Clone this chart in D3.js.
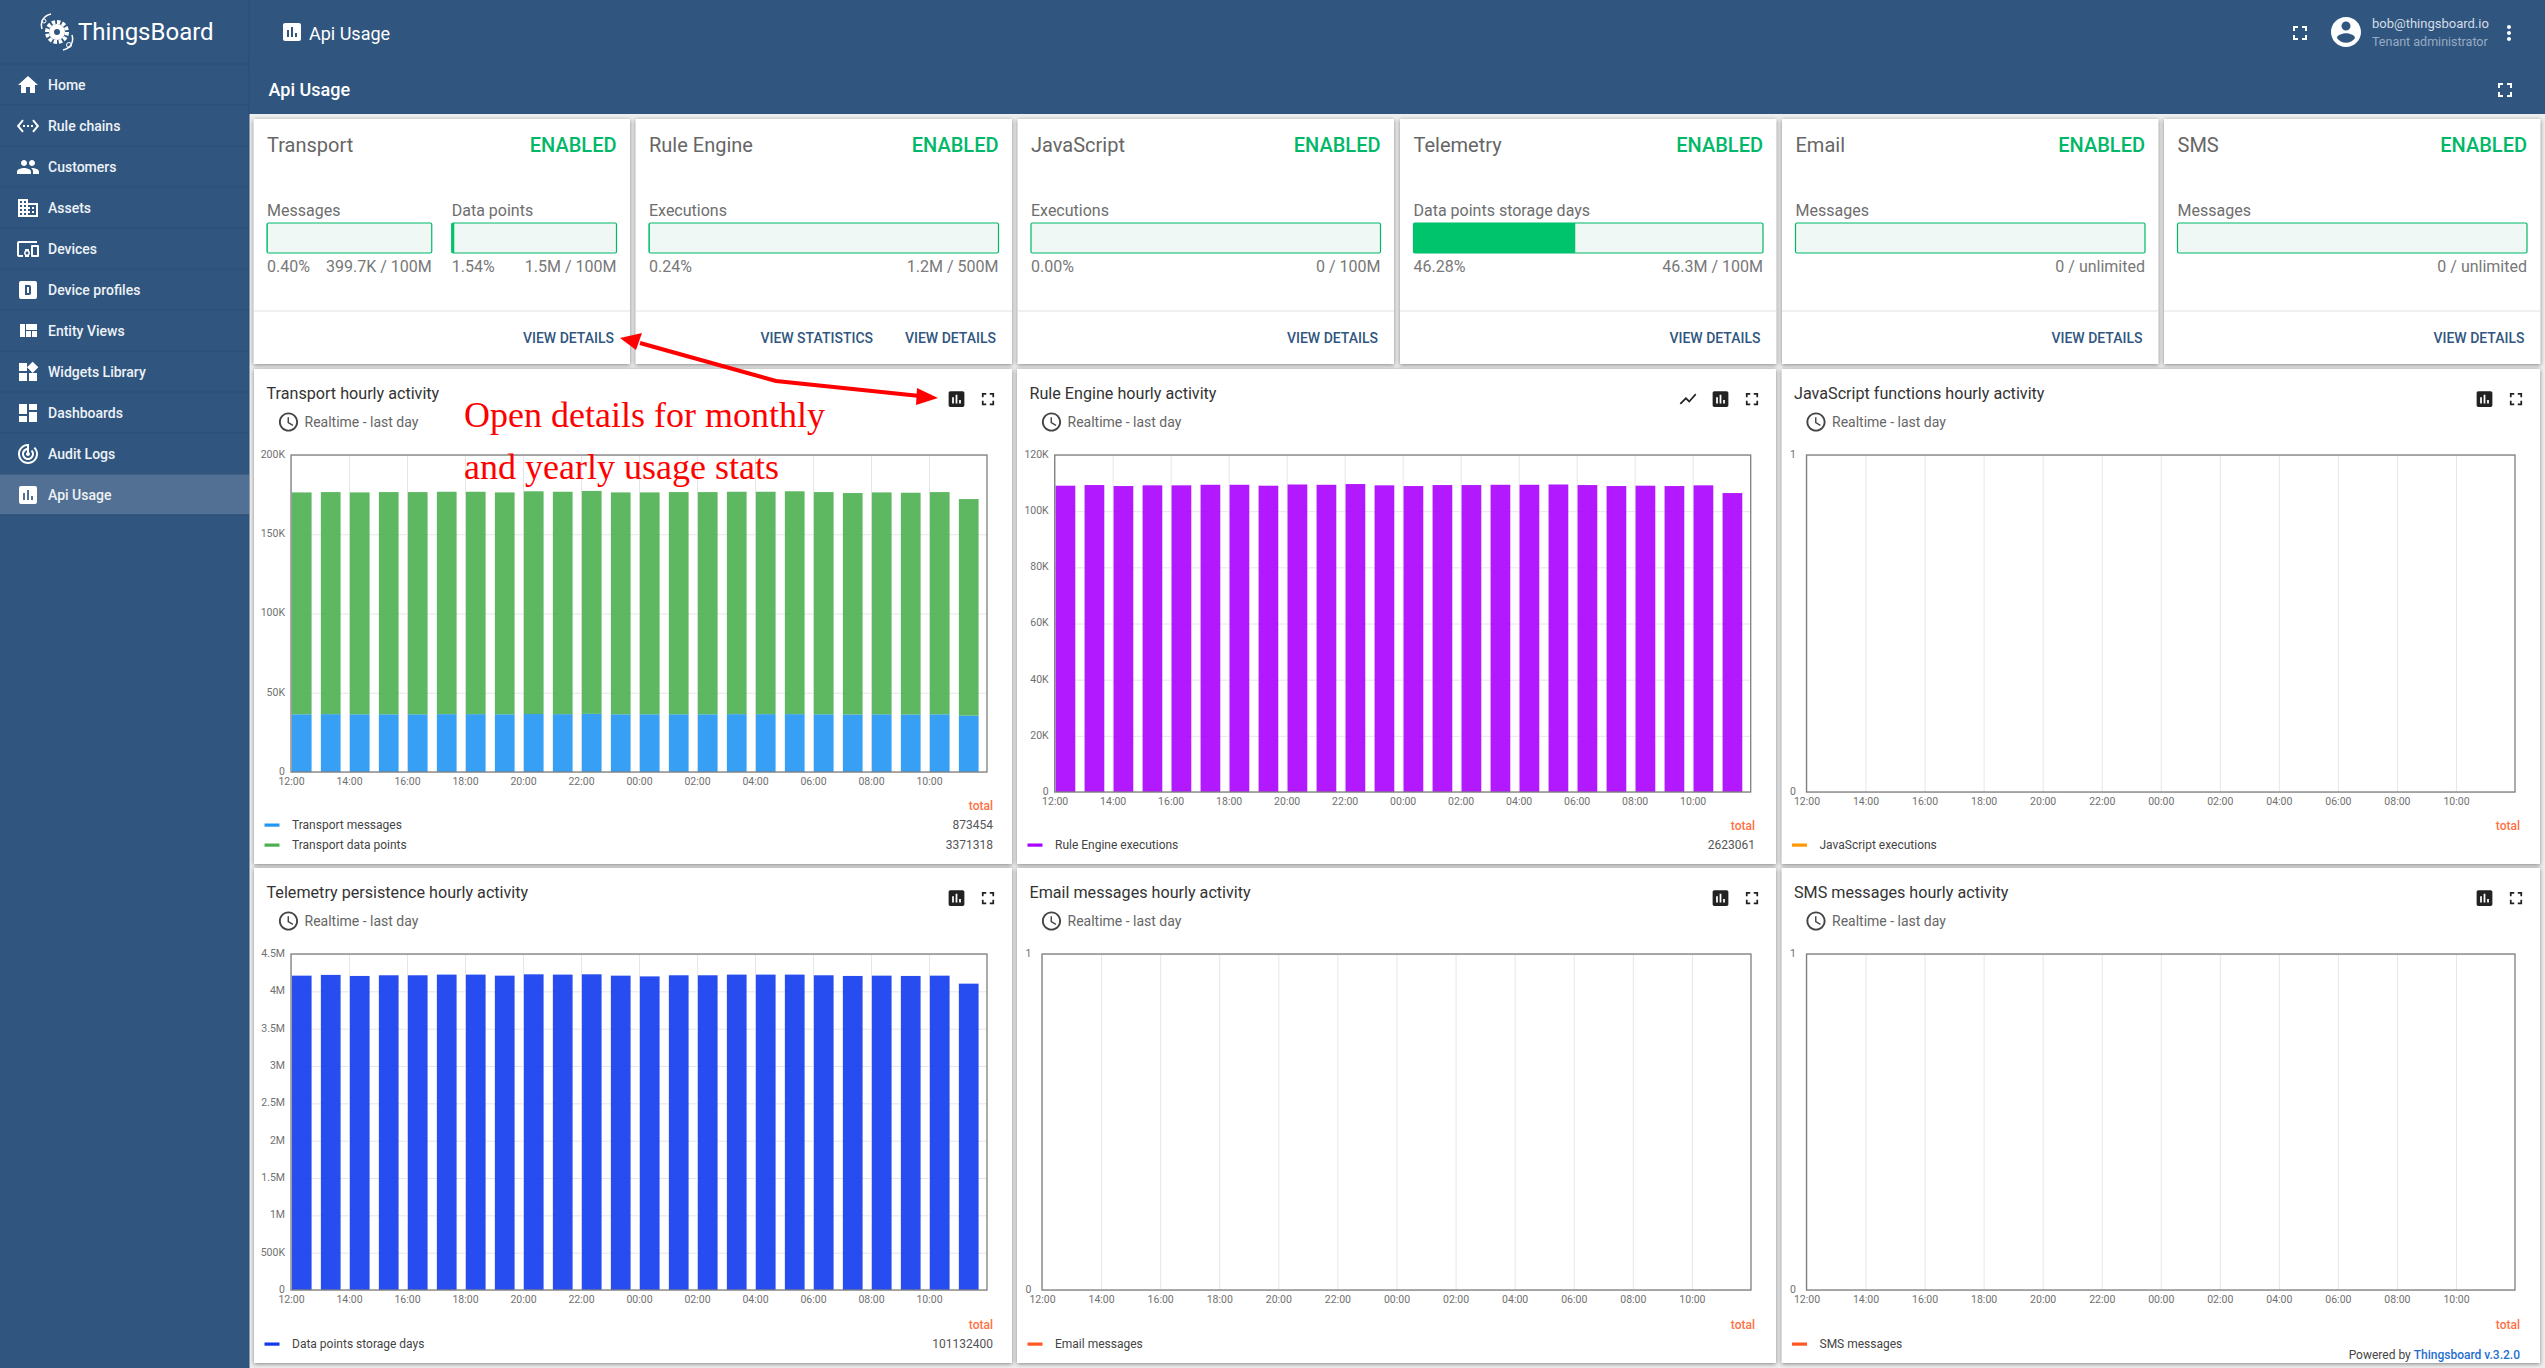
<!DOCTYPE html>
<html>
<head>
<meta charset="utf-8">
<title>Api Usage</title>
<script src="https://cdn.jsdelivr.net/npm/d3@7"></script>
<style>
  html, body { margin: 0; padding: 0; background: #eeeeee; }
  svg { display: block; font-family: Roboto, sans-serif; }
  .grid line { stroke: #e6e6e6; stroke-width: 1; }
  .grid path { display: none; }
  .grid text { fill: #707070; font-size: 10.5px; font-family: Roboto, sans-serif; }
  .card { fill: #fff; filter: drop-shadow(0 1px 2px rgba(0,0,0,.45)); }
</style>
</head>
<body>
<div id="page"></div>
<script>
var svgWidth = 2545;
var svgHeight = 1368;

var headerColor = "#305680";

// Chart data
var hourLabels = ["12:00", "14:00", "16:00", "18:00", "20:00", "22:00", "00:00", "02:00", "04:00", "06:00", "08:00", "10:00"];
var hourTicks = [0, 2, 4, 6, 8, 10, 12, 14, 16, 18, 20, 22];
var barHours = [0, 1, 2, 3, 4, 5, 6, 7, 8, 9, 10, 11, 12, 13, 14, 15, 16, 17, 18, 19, 20, 21, 22, 23];

var transportMessages = [36400, 36500, 36400, 36400, 36400, 36500, 36500, 36400, 36600, 36500, 36700, 36400,
  36400, 36400, 36400, 36500, 36500, 36500, 36400, 36300, 36400, 36300, 36400, 35600];
var transportDataPoints = [140000, 140100, 140000, 140200, 140200, 140300, 140300, 140000, 140500, 140300, 140600, 140000,
  140000, 140200, 140200, 140300, 140300, 140600, 140200, 139700, 140000, 139900, 140200, 136600];
var ruleEngineExecutions = [109070, 109300, 108950, 109200, 109200, 109400, 109400, 109070, 109500, 109400, 109660, 109200,
  108950, 109300, 109300, 109400, 109400, 109500, 109300, 108950, 109070, 108950, 109200, 106450];
var storageDays = [4210000, 4220000, 4206000, 4215000, 4215000, 4224000, 4224000, 4210000, 4228000, 4224000, 4228000, 4210000,
  4200000, 4215000, 4215000, 4224000, 4224000, 4224000, 4215000, 4206000, 4210000, 4206000, 4210000, 4103000];

var transportTicks = [0, 50000, 100000, 150000, 200000];
var ruleEngineTicks = [0, 20000, 40000, 60000, 80000, 100000, 120000];
var storageTicks = [0, 500000, 1000000, 1500000, 2000000, 2500000, 3000000, 3500000, 4000000, 4500000];
var emptyTicks = [0, 1];

// Usage cards
var cardNames = ["Transport", "Rule Engine", "JavaScript", "Telemetry", "Email", "SMS"];
var cardMeters = [
  [{ label: "Messages", pct: 0.40, text: "0.40%", usage: "399.7K / 100M" }, { label: "Data points", pct: 1.54, text: "1.54%", usage: "1.5M / 100M" }],
  [{ label: "Executions", pct: 0.24, text: "0.24%", usage: "1.2M / 500M" }],
  [{ label: "Executions", pct: 0, text: "0.00%", usage: "0 / 100M" }],
  [{ label: "Data points storage days", pct: 46.28, text: "46.28%", usage: "46.3M / 100M" }],
  [{ label: "Messages", pct: 0, text: "", usage: "0 / unlimited" }],
  [{ label: "Messages", pct: 0, text: "", usage: "0 / unlimited" }]
];

var menuLabels = ["Home", "Rule chains", "Customers", "Assets", "Devices", "Device profiles", "Entity Views", "Widgets Library", "Dashboards", "Audit Logs", "Api Usage"];

// Material icon paths, 24x24
var icons = {
  home: "M10 20v-6h4v6h5v-8h3L12 3 2 12h3v8z",
  ruleChains: "M7.77 6.76L6.23 5.48.82 12l5.41 6.52 1.54-1.28L3.42 12l4.35-5.24zM7 13h2v-2H7v2zm10-2h-2v2h2v-2zm-6 2h2v-2h-2v2zm6.77-7.52l-1.54 1.28L20.58 12l-4.35 5.24 1.54 1.28L23.18 12l-5.41-6.52z",
  people: "M16 11c1.66 0 2.99-1.34 2.99-3S17.66 5 16 5c-1.66 0-3 1.34-3 3s1.34 3 3 3zm-8 0c1.66 0 2.99-1.34 2.99-3S9.66 5 8 5C6.34 5 5 6.34 5 8s1.34 3 3 3zm0 2c-2.33 0-7 1.17-7 3.5V19h14v-2.5c0-2.33-4.67-3.5-7-3.5zm8 0c-.29 0-.62.02-.97.05 1.16.84 1.97 1.97 1.97 3.45V19h6v-2.5c0-2.33-4.67-3.5-7-3.5z",
  domain: "M12 7V3H2v18h20V7H12zM6 19H4v-2h2v2zm0-4H4v-2h2v2zm0-4H4V9h2v2zm0-4H4V5h2v2zm4 12H8v-2h2v2zm0-4H8v-2h2v2zm0-4H8V9h2v2zm0-4H8V5h2v2zm10 12h-8v-2h2v-2h-2v-2h2v-2h-2V9h8v10zm-2-8h-2v2h2v-2zm0 4h-2v2h2v-2z",
  devices: "M3 6h18V4H3c-1.1 0-2 .9-2 2v12c0 1.1.9 2 2 2h4v-2H3V6zm10 6H9v1.78c-.61.55-1 1.33-1 2.22s.39 1.67 1 2.22V20h4v-1.78c.61-.55 1-1.34 1-2.22s-.39-1.67-1-2.22V12zm-2 5.5c-.83 0-1.5-.67-1.5-1.5s.67-1.5 1.5-1.5 1.5.67 1.5 1.5-.67 1.5-1.5 1.5zM22 8h-6c-.5 0-1 .5-1 1v10c0 .5.5 1 1 1h6c.5 0 1-.5 1-1V9c0-.5-.5-1-1-1zm-1 10h-4v-8h4v8z",
  profile: "M5 3h14a2 2 0 0 1 2 2v14a2 2 0 0 1-2 2H5a2 2 0 0 1-2-2V5a2 2 0 0 1 2-2zm4 4v10h4a2 2 0 0 0 2-2V9a2 2 0 0 0-2-2H9zm2 2h2v6h-2V9z",
  quilt: "M10 18h5v-6h-5v6zm-6 0h5V5H4v13zm12 0h5v-6h-5v6zM10 5v6h11V5H10z",
  widgets: "M13 13v8h8v-8h-8zM3 21h8v-8H3v8zM3 3v8h8V3H3zm13.66-1.31L11 7.34 16.66 13l5.66-5.66-5.66-5.65z",
  dashboard: "M3 13h8V3H3v10zm0 8h8v-6H3v6zm10 0h8V11h-8v10zm0-18v6h8V3h-8z",
  audit: "M19.07 4.93l-1.41 1.41C19.1 7.79 20 9.79 20 12c0 4.42-3.58 8-8 8s-8-3.58-8-8c0-4.08 3.05-7.44 7-7.93v2.02C8.16 6.57 6 9.03 6 12c0 3.31 2.69 6 6 6s6-2.69 6-6c0-1.66-.67-3.16-1.76-4.24l-1.41 1.41C15.55 9.9 16 10.9 16 12c0 2.21-1.79 4-4 4s-4-1.79-4-4c0-1.86 1.28-3.41 3-3.86v2.14c-.6.35-1 .98-1 1.72 0 1.1.9 2 2 2s2-.9 2-2c0-.74-.4-1.38-1-1.72V2h-1C6.48 2 2 6.48 2 12s4.48 10 10 10 10-4.48 10-10c0-2.76-1.12-5.26-2.93-7.07z",
  chart: "M19 3H5c-1.1 0-2 .9-2 2v14c0 1.1.9 2 2 2h14c1.1 0 2-.9 2-2V5c0-1.1-.9-2-2-2zM9 17H7v-7h2v7zm4 0h-2V7h2v10zm4 0h-2v-4h2v4z",
  fullscreen: "M7 14H5v5h5v-2H7v-3zm-2-4h2V7h3V5H5v5zm12 7h-3v2h5v-5h-2v3zM14 5v2h3v3h2V5h-5z",
  account: "M12 2C6.48 2 2 6.48 2 12s4.48 10 10 10 10-4.48 10-10S17.52 2 12 2zm0 3c1.66 0 3 1.34 3 3s-1.34 3-3 3-3-1.34-3-3 1.34-3 3-3zm0 14.2c-2.5 0-4.71-1.28-6-3.22.03-1.99 4-3.08 6-3.08 1.99 0 5.97 1.09 6 3.08-1.29 1.94-3.5 3.22-6 3.22z",
  more: "M12 8c1.1 0 2-.9 2-2s-.9-2-2-2-2 .9-2 2 .9 2 2 2zm0 2c-1.1 0-2 .9-2 2s.9 2 2 2 2-.9 2-2-.9-2-2-2zm0 6c-1.1 0-2 .9-2 2s.9 2 2 2 2-.9 2-2-.9-2-2-2z",
  showChart: "M3.5 18.49l6-6.01 4 4L22 6.92l-1.41-1.41-7.09 7.97-4-4L2 16.99z",
  clock: "M11.99 2C6.47 2 2 6.48 2 12s4.47 10 9.99 10C17.52 22 22 17.52 22 12S17.52 2 11.99 2zM12 20c-4.42 0-8-3.58-8-8s3.58-8 8-8 8 3.58 8 8-3.58 8-8 8zm.5-13H11v6l5.25 3.15.75-1.23-4.5-2.67z"
};
var menuIcons = ["home", "ruleChains", "people", "domain", "devices", "profile", "quilt", "widgets", "dashboard", "audit", "chart"];

var svg = d3.select("#page")
  .append("svg")
  .attr("width", svgWidth)
  .attr("height", svgHeight);

svg.append("rect")
  .attr("width", svgWidth)
  .attr("height", svgHeight)
  .attr("fill", "#eeeeee");

function drawIcon(parent, path, cx, cy, size, color) {
  return parent.append("path")
    .attr("d", path)
    .attr("fill", color)
    .attr("fill-rule", "evenodd")
    .attr("transform", `translate(${cx - size / 2}, ${cy - size / 2}) scale(${size / 24})`);
}

// text helper, y is the vertical centre of the line
function drawText(parent, str, x, y, size, color, weight, anchor) {
  return parent.append("text")
    .attr("x", x)
    .attr("y", y)
    .attr("dy", "0.35em")
    .attr("font-size", size)
    .attr("fill", color)
    .attr("font-weight", weight || 400)
    .attr("text-anchor", anchor || "start")
    .text(str);
}

function formatTick(v) {
  if (v >= 1000000) return (v / 1000000) + "M";
  if (v >= 1000) return (v / 1000) + "K";
  return v;
}

// Header and side menu
var header = svg.append("g");
header.append("rect").attr("width", svgWidth).attr("height", 114).attr("fill", headerColor);
header.append("rect").attr("width", 249).attr("height", svgHeight).attr("fill", headerColor);
header.append("line")
  .attr("x1", 249).attr("x2", 249).attr("y1", 0).attr("y2", svgHeight)
  .attr("stroke", "#2a4c72");

// logo: gear with a couple of circuit traces
var logo = header.append("g").attr("transform", "translate(57, 32)");
logo.append("circle").attr("r", 8).attr("fill", "#fff");
logo.append("circle").attr("r", 10).attr("fill", "none").attr("stroke", "#fff").attr("stroke-width", 4).attr("stroke-dasharray", "3.4 1.8");
logo.append("circle").attr("r", 3).attr("fill", headerColor);
logo.append("path").attr("d", "M-15 -3 C-17 -10 -14 -16 -6 -18 M15 3 C17 10 14 16 6 18").attr("fill", "none").attr("stroke", "#fff").attr("stroke-width", 1.5);
logo.append("circle").attr("cx", -13).attr("cy", -11).attr("r", 2).attr("fill", "none").attr("stroke", "#fff");
logo.append("circle").attr("cx", 12).attr("cy", 13).attr("r", 2.5).attr("fill", "none").attr("stroke", "#fff");
drawText(header, "ThingsBoard", 78, 32, 24, "#fff", 400);

drawIcon(header, icons.chart, 292, 32, 24, "#fff");
drawText(header, "Api Usage", 309, 34, 18, "#fff");
drawText(header, "Api Usage", 268.5, 90, 18, "#fff", 500);

drawIcon(header, icons.fullscreen, 2300, 33, 24, "#fff");
drawIcon(header, icons.account, 2346, 32, 36, "#fff");
drawText(header, "bob@thingsboard.io", 2372, 23, 13, "#d4dce6");
drawText(header, "Tenant administrator", 2372, 42, 12.5, "#98abc2");
drawIcon(header, icons.more, 2509, 33, 24, "#fff");
drawIcon(header, icons.fullscreen, 2505, 90, 24, "#fff");

var menuTop = 64;
var menuStep = 41;
menuLabels.forEach(function(label, i) {
  var rowY = menuTop + i * menuStep;
  if (label === "Api Usage") {
    header.append("rect").attr("y", rowY - 0.5).attr("width", 249).attr("height", menuStep).attr("fill", "#527094");
  }
  header.append("line")
    .attr("x1", 0).attr("x2", 249).attr("y1", rowY).attr("y2", rowY)
    .attr("stroke", "#2a4c72");
  drawIcon(header, icons[menuIcons[i]], 28, rowY + 21, 24, "#fff");
  drawText(header, label, 48, rowY + 21, 14, "#eef2f6", 500);
});
header.append("line")
  .attr("x1", 0).attr("x2", 249).attr("y1", menuTop + 11 * menuStep).attr("y2", menuTop + 11 * menuStep)
  .attr("stroke", "#2a4c72");

// Usage cards
var cardLeft = [253.5, 635.5, 1017.5, 1400, 1782, 2164];
var cardWidth = 376.5;

var meterScale = d3.scaleLinear().domain([0, 100]);

cardNames.forEach(function(name, i) {
  var g = svg.append("g").attr("transform", `translate(${cardLeft[i]}, 119)`);
  g.append("rect").attr("class", "card").attr("width", cardWidth).attr("height", 245);
  drawText(g, name, 13.5, 26, 20, "#666");
  drawText(g, "ENABLED", cardWidth - 13.5, 26, 20, "#00b868", 500, "end");

  var meters = cardMeters[i];
  var gap = 20;
  var meterWidth = (cardWidth - 27 - gap * (meters.length - 1)) / meters.length;
  meterScale.range([0, meterWidth]);
  meters.forEach(function(m, j) {
    var mx = 13.5 + j * (meterWidth + gap);
    drawText(g, m.label, mx, 91, 16, "#6e6e6e");
    g.append("rect")
      .attr("x", mx).attr("y", 104)
      .attr("width", meterWidth).attr("height", 30)
      .attr("rx", 1.5)
      .attr("fill", "#eff8f4").attr("stroke", "#00b868").attr("stroke-width", 1.2);
    g.append("rect")
      .attr("x", mx).attr("y", 104)
      .attr("width", meterScale(m.pct)).attr("height", 30)
      .attr("fill", "#00c46c");
    drawText(g, m.text, mx, 147, 16, "#787878");
    drawText(g, m.usage, mx + meterWidth, 147, 16, "#787878", 400, "end");
  });

  g.append("line")
    .attr("x1", 0).attr("x2", cardWidth).attr("y1", 192).attr("y2", 192)
    .attr("stroke", "#e2e2e2").attr("stroke-width", 1.2);
  drawText(g, "VIEW DETAILS", cardWidth - 16, 219, 14, headerColor, 500, "end");
  if (name === "Rule Engine") {
    drawText(g, "VIEW STATISTICS", cardWidth - 139, 219, 14, headerColor, 500, "end");
  }
});

// Hourly charts
function drawChart(opts) {
  var g = svg.append("g").attr("transform", `translate(${opts.x}, ${opts.y})`);
  var cardW = opts.width;
  var cardH = 495;
  g.append("rect").attr("class", "card").attr("width", cardW).attr("height", cardH);

  drawText(g, opts.title, 12.5, 24, 16.15, "#333");
  drawIcon(g, icons.clock, 34.5, 53, 23, "#444");
  drawText(g, "Realtime - last day", 50.5, 53, 14, "#666");

  if (opts.lineIcon) drawIcon(g, icons.showChart, cardW - 88, 30, 20, "#222");
  drawIcon(g, icons.chart, cardW - 55.5, 30, 21, "#222");
  drawIcon(g, icons.fullscreen, cardW - 24, 30, 21, "#222");

  var plotW = cardW - opts.plotLeft - opts.plotRight;
  var plotH = opts.plotH;
  var plot = g.append("g").attr("transform", `translate(${opts.plotLeft}, 86)`);

  var xScale = d3.scaleLinear().domain([0, 24]).range([0, plotW]);
  var yScale = d3.scaleLinear().domain([0, opts.yTicks[opts.yTicks.length - 1]]).range([plotH, 0]);

  var bottomAxis = d3.axisBottom(xScale)
    .tickValues(hourTicks)
    .tickFormat(function(d, i) { return hourLabels[i]; })
    .tickSize(-plotH)
    .tickPadding(6);
  var leftAxis = d3.axisLeft(yScale)
    .tickValues(opts.yTicks)
    .tickFormat(formatTick)
    .tickSize(-plotW)
    .tickPadding(opts.tickPad);

  plot.append("g").attr("class", "grid")
    .attr("transform", `translate(0, ${plotH})`)
    .call(bottomAxis);
  plot.append("g").attr("class", "grid")
    .call(leftAxis)
    .selectAll("text").attr("y", -1);

  // stacked bars, each series sits on top of the previous one
  var base = barHours.map(function() { return 0; });
  opts.series.forEach(function(s) {
    if (!s.values.length) return;
    plot.append("g").selectAll("rect")
      .data(s.values)
      .enter()
      .append("rect")
      .attr("x", function(d, i) { return xScale(barHours[i] + 0.03); })
      .attr("width", xScale(0.68))
      .attr("y", function(d, i) { return yScale(base[i] + d); })
      .attr("height", function(d) { return yScale(0) - yScale(d); })
      .attr("fill", s.color)
      .attr("fill-opacity", 0.9);
    s.values.forEach(function(d, i) { base[i] += d; });
  });

  plot.append("rect")
    .attr("width", plotW)
    .attr("height", plotH)
    .attr("fill", "none")
    .attr("stroke", "#7f7f7f")
    .attr("stroke-width", 1.3);

  // legend, last row stays on the same line in every card
  var rowGap = 20;
  var lastRow = 476;
  var rows = opts.series.length;
  var valueRight = cardW - opts.legendRight;
  drawText(g, "total", valueRight, lastRow - rows * rowGap + 1, 12, "#ff7043", 500, "end");
  opts.series.forEach(function(s, i) {
    var rowY = lastRow - (rows - 1 - i) * rowGap;
    g.append("rect")
      .attr("x", 10.5).attr("y", rowY - 1.5)
      .attr("width", 15).attr("height", 3.2)
      .attr("fill", s.color);
    drawText(g, s.name, 38, rowY, 12, "#444");
    if (s.total) drawText(g, s.total, valueRight, rowY, 12, "#555", 400, "end");
  });
}

var rowOne = 369;
var rowTwo = 868;

drawChart({
  title: "Transport hourly activity", x: 254, y: rowOne, width: 758, plotLeft: 37, plotRight: 25, plotH: 317,
  tickPad: 6, legendRight: 19, yTicks: transportTicks,
  series: [
    { name: "Transport messages", color: "#2196f3", values: transportMessages, total: "873454" },
    { name: "Transport data points", color: "#4caf50", values: transportDataPoints, total: "3371318" }
  ]
});
drawChart({
  title: "Rule Engine hourly activity", x: 1017, y: rowOne, width: 759, plotLeft: 37.7, plotRight: 25.3, plotH: 337, lineIcon: true,
  tickPad: 6, legendRight: 21, yTicks: ruleEngineTicks,
  series: [{ name: "Rule Engine executions", color: "#aa00ff", values: ruleEngineExecutions, total: "2623061" }]
});
drawChart({
  title: "JavaScript functions hourly activity", x: 1781.5, y: rowOne, width: 758.5, plotLeft: 25, plotRight: 25, plotH: 337,
  tickPad: 10.5, legendRight: 20, yTicks: emptyTicks,
  series: [{ name: "JavaScript executions", color: "#ff9800", values: [] }]
});
drawChart({
  title: "Telemetry persistence hourly activity", x: 254, y: rowTwo, width: 758, plotLeft: 37, plotRight: 25, plotH: 336,
  tickPad: 6, legendRight: 19, yTicks: storageTicks,
  series: [{ name: "Data points storage days", color: "#1039ee", values: storageDays, total: "101132400" }]
});
drawChart({
  title: "Email messages hourly activity", x: 1017, y: rowTwo, width: 759, plotLeft: 25, plotRight: 25, plotH: 336,
  tickPad: 10.5, legendRight: 21, yTicks: emptyTicks,
  series: [{ name: "Email messages", color: "#ff5722", values: [] }]
});
drawChart({
  title: "SMS messages hourly activity", x: 1781.5, y: rowTwo, width: 758.5, plotLeft: 25, plotRight: 25, plotH: 336,
  tickPad: 10.5, legendRight: 20, yTicks: emptyTicks,
  series: [{ name: "SMS messages", color: "#ff5722", values: [] }]
});

// Footer
var powered = svg.append("text")
  .attr("x", 2520).attr("y", 1355).attr("dy", "0.35em")
  .attr("text-anchor", "end").attr("font-size", 12).attr("fill", "#444");
powered.append("tspan").text("Powered by ");
powered.append("tspan").attr("fill", "#1f6fd0").attr("font-weight", 500).text("Thingsboard v.3.2.0");

// Red annotation drawn over the screenshot
var note = svg.append("g");
note.append("path")
  .attr("d", "M640 343 L776 381 L920 396")
  .attr("fill", "none").attr("stroke", "#ff0000").attr("stroke-width", 4);
note.append("path").attr("d", "M938 398 L917 388 L916 405 Z").attr("fill", "#ff0000");
note.append("path").attr("d", "M620 338 L642 333 L636 350 Z").attr("fill", "#ff0000");
["Open details for monthly", "and yearly usage stats"].forEach(function(line, i) {
  note.append("text")
    .attr("x", 464).attr("y", 427 + i * 52)
    .attr("font-family", "'Liberation Serif', serif")
    .attr("font-size", 36)
    .attr("fill", "#ff0000")
    .text(line);
});
</script>
</body>
</html>
